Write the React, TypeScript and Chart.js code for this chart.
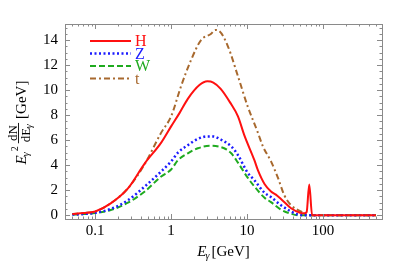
import React, { useEffect, useRef } from "react";
import { Chart, registerables } from "chart.js";

Chart.register(...registerables);

// ---- data (E in GeV, value in GeV) ----
const hE = [0.05, 0.07, 0.1, 0.16, 0.27, 0.45, 0.74, 1.0, 1.3, 1.66, 2.36, 3.0, 3.6, 4.5, 6.0, 7.6, 9.2, 12.5, 13.9, 17, 20.7, 24, 28, 38, 50, 57, 61, 66, 72, 80, 100, 150, 200, 300, 400, 500];
const hV = [0.1, 0.17, 0.3, 0.95, 2.15, 4.15, 5.8, 7.1, 8.2, 9.3, 10.4, 10.7, 10.6, 10.1, 9.0, 7.9, 6.4, 4.4, 3.6, 2.5, 1.9, 1.65, 1.3, 0.56, 0.2, 0.15, 0.25, 2.45, 0.0, 0, 0, 0, 0, 0, 0, 0];

const zE = [0.05, 0.07, 0.1, 0.16, 0.27, 0.45, 0.74, 1.0, 1.23, 1.66, 2.25, 3.0, 3.6, 4.5, 6.2, 7.6, 10.2, 12.5, 17, 20.7, 28, 38, 47, 55, 70, 100, 150, 200, 300, 400, 500];
const zV = [0.05, 0.1, 0.2, 0.5, 1.2, 2.3, 3.5, 4.3, 5.0, 5.6, 6.1, 6.3, 6.3, 6.05, 5.5, 4.8, 3.4, 2.8, 1.8, 1.45, 0.8, 0.3, 0.05, 0, 0, 0, 0, 0, 0, 0, 0];

const wE = [0.05, 0.07, 0.1, 0.16, 0.27, 0.45, 0.74, 1.0, 1.23, 1.66, 2.25, 3.3, 5.0, 6.2, 7.6, 10.2, 12.5, 17, 20.7, 28, 38, 47, 55, 70, 100, 150, 200, 300, 400, 500];
const wV = [0.05, 0.09, 0.17, 0.42, 1.0, 1.9, 3.1, 3.65, 4.4, 4.95, 5.35, 5.55, 5.35, 4.95, 4.2, 3.0, 2.3, 1.4, 1.05, 0.45, 0.12, 0.0, 0, 0, 0, 0, 0, 0, 0, 0];

const tE = [0.05, 0.07, 0.1, 0.16, 0.27, 0.45, 0.74, 1.0, 1.35, 1.83, 2.48, 3.37, 3.8, 4.33, 5.6, 7.6, 10.2, 13.9, 16.2, 20.7, 25.5, 31, 38, 51, 63, 70, 100, 150, 200, 300, 400, 500];
const tV = [0.1, 0.17, 0.3, 0.95, 2.15, 4.1, 6.6, 7.9, 10.3, 12.4, 14.0, 14.5, 14.8, 14.7, 13.5, 11.1, 8.7, 6.6, 5.5, 4.3, 3.0, 1.6, 0.8, 0.3, 0.02, 0, 0, 0, 0, 0, 0, 0];

const seriesNames = ["H", "Z", "W", "t"];
const seriesColors = ["#ff1010", "#1a1aff", "#1faa1f", "#a8692e"];
const seriesDash: number[][] = [[], [2, 2.5], [6, 3], [6, 3, 2, 3]];
const seriesWidth = [2, 2.5, 2, 2];

const xMajorLabels = [0.1, 1, 10, 100];
const yMajorLabels = [0, 2, 4, 6, 8, 10, 12, 14];

const SERIF = '"Liberation Serif", "DejaVu Serif", serif';

const framePlugin = {
  id: "frameTicks",
  afterDatasetsDraw(chart: any) {
    const { ctx, chartArea, scales } = chart;
    const { left, right, top, bottom } = chartArea;
    const x = scales.x;
    const y = scales.y;
    ctx.save();
    ctx.strokeStyle = "#8a8a8a";
    ctx.lineWidth = 1;
    ctx.strokeRect(Math.round(left) + 0.5, Math.round(top) + 0.5, Math.round(right - left), Math.round(bottom - top));
    ctx.beginPath();
    for (let d = -2; d <= 3; d++) {
      for (let m = 1; m <= 9; m++) {
        const v = m * Math.pow(10, d);
        if (v < x.min || v > x.max) continue;
        const px = Math.round(x.getPixelForValue(v)) + 0.5;
        const len = m === 1 ? 5 : 2.5;
        ctx.moveTo(px, bottom);
        ctx.lineTo(px, bottom - len);
        ctx.moveTo(px, top);
        ctx.lineTo(px, top + len);
      }
    }
    for (let k = 0; k <= 30; k++) {
      const v = k * 0.5;
      if (v < y.min || v > y.max) continue;
      const py = Math.round(y.getPixelForValue(v)) + 0.5;
      const len = k % 4 === 0 ? 5 : 2.5;
      ctx.moveTo(left, py);
      ctx.lineTo(left + len, py);
      ctx.moveTo(right, py);
      ctx.lineTo(right - len, py);
    }
    ctx.stroke();
    ctx.restore();
  },
};

const legendPlugin = {
  id: "insideLegend",
  afterDraw(chart: any) {
    const { ctx } = chart;
    ctx.save();
    chart.data.datasets.forEach((ds: any, i: number) => {
      const yy = 41 + i * 12.5;
      ctx.beginPath();
      ctx.strokeStyle = ds.borderColor;
      ctx.lineWidth = ds.borderWidth;
      ctx.setLineDash(ds.borderDash || []);
      ctx.moveTo(90, yy);
      ctx.lineTo(131, yy);
      ctx.stroke();
      ctx.setLineDash([]);
      ctx.fillStyle = ds.borderColor;
      ctx.font = `16px ${SERIF}`;
      ctx.textBaseline = "middle";
      ctx.textAlign = "left";
      ctx.fillText(ds.label, 135, yy + 1);
    });
    ctx.restore();
  },
};

const titlePlugin = {
  id: "axisTitles",
  afterDraw(chart: any) {
    const { ctx, chartArea } = chart;
    const big = `italic 15px ${SERIF}`;
    const bigUp = `15px ${SERIF}`;
    const sub = `italic 10px ${SERIF}`;
    ctx.save();
    ctx.fillStyle = "#000";
    ctx.textBaseline = "alphabetic";
    ctx.textAlign = "left";
    // x title: E_γ[GeV]
    ctx.font = big;
    const wE1 = ctx.measureText("E").width;
    ctx.font = sub;
    const wG = ctx.measureText("γ").width;
    ctx.font = bigUp;
    const wGeV = ctx.measureText("[GeV]").width;
    const total = wE1 + wG + 1 + wGeV;
    const cx = (chartArea.left + chartArea.right) / 2;
    let xx = cx - total / 2;
    const by = 256;
    ctx.font = big;
    ctx.fillText("E", xx, by);
    xx += wE1;
    ctx.font = sub;
    ctx.fillText("γ", xx - 1, by + 3);
    xx += wG + 1;
    ctx.font = bigUp;
    ctx.fillText("[GeV]", xx, by);

    // y title: E_γ^2 dN/dE_γ [GeV], rotated
    const cy = (chartArea.top + chartArea.bottom) / 2 + 1;
    ctx.save();
    ctx.translate(26, cy);
    ctx.rotate(-Math.PI / 2);
    const yBig = `italic 15px ${SERIF}`;
    const yBigUp = `15px ${SERIF}`;
    const ySub = `italic 10px ${SERIF}`;
    const ySup = `10px ${SERIF}`;
    const fr = `13px ${SERIF}`;
    ctx.font = yBig;
    const a1 = ctx.measureText("E").width;
    ctx.font = ySub;
    const a2 = ctx.measureText("γ").width;
    ctx.font = ySup;
    const a3 = ctx.measureText("2").width;
    ctx.font = fr;
    const nW = ctx.measureText("dN").width;
    const dW0 = ctx.measureText("dE").width;
    ctx.font = ySub;
    const dW = dW0 + ctx.measureText("γ").width;
    const fW = Math.max(nW, dW) + 2;
    ctx.font = yBigUp;
    const gW = ctx.measureText("[GeV]").width;
    const tot = a1 + a2 + a3 + 3 + fW + 4 + gW;
    let u = -tot / 2;
    ctx.font = yBig;
    ctx.fillText("E", u, 0);
    u += a1;
    ctx.font = ySub;
    ctx.fillText("γ", u - 1, 3);
    u += a2;
    ctx.font = ySup;
    ctx.fillText("2", u, -8);
    u += a3 + 3;
    // fraction
    ctx.font = fr;
    ctx.fillText("dN", u + (fW - nW) / 2, -9.5);
    ctx.fillRect(u, -8, fW, 0.9);
    const du = u + (fW - dW) / 2;
    ctx.fillText("dE", du, 3.5);
    ctx.font = ySub;
    ctx.fillText("γ", du + dW0 - 0.5, 6);
    u += fW + 4;
    ctx.font = yBigUp;
    ctx.fillText("[GeV]", u, 0);
    ctx.restore();
    ctx.restore();
  },
};

export default function App() {
  const ref = useRef<HTMLCanvasElement>(null);
  useEffect(() => {
    if (!ref.current) return;
    const series = [
      [hE, hV],
      [zE, zV],
      [wE, wV],
      [tE, tV],
    ];
    const datasets = series.map(([xs, ys], i) => ({
      label: seriesNames[i],
      data: xs.map((x, k) => ({ x, y: ys[k] })),
      borderColor: seriesColors[i],
      backgroundColor: seriesColors[i],
      borderDash: seriesDash[i],
      borderWidth: seriesWidth[i],
      pointRadius: 0,
      fill: false,
      cubicInterpolationMode: "monotone" as const,
    }));
    const chart = new Chart(ref.current, {
      type: "line",
      data: { datasets },
      options: {
        animation: false,
        responsive: false,
        layout: { padding: { top: 24, right: 21, left: 0, bottom: 0 } },
        plugins: { legend: { display: false }, tooltip: { enabled: false } },
        scales: {
          x: {
            type: "logarithmic",
            min: 0.04,
            max: 600,
            grid: { display: false, drawTicks: false },
            border: { display: false },
            ticks: {
              autoSkip: false,
              maxRotation: 0,
              padding: 3,
              color: "#000",
              font: { family: SERIF, size: 15 },
              callback: (value: any) => {
                const v = Number(value);
                const hit = xMajorLabels.find((m) => Math.abs(m - v) / m < 1e-6);
                return hit !== undefined ? String(hit) : "";
              },
            },
            afterFit: (s: any) => {
              s.height = 43;
            },
          },
          y: {
            type: "linear",
            min: -0.3,
            max: 15.28,
            grid: { display: false, drawTicks: false },
            border: { display: false },
            ticks: {
              stepSize: 2,
              includeBounds: false,
              padding: 7,
              color: "#000",
              font: { family: SERIF, size: 15 },
              callback: (value: any) => {
                const v = Number(value);
                return yMajorLabels.includes(v) ? String(v) : "";
              },
            },
            afterFit: (s: any) => {
              s.width = 65;
            },
          },
        },
      },
      plugins: [framePlugin, legendPlugin, titlePlugin],
    });
    return () => chart.destroy();
  }, []);
  return (
    <div style={{ position: "fixed", left: 0, top: 0, width: 403, height: 262, background: "#fff" }}>
      <canvas ref={ref} width={403} height={262} />
    </div>
  );
}
